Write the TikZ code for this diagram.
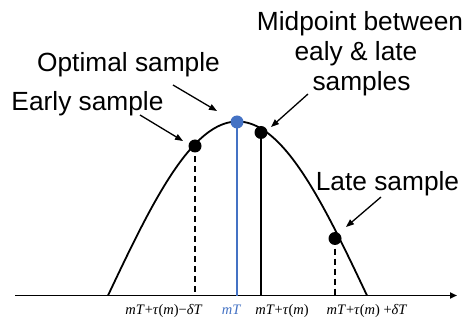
\documentclass[tikz,border=0pt]{standalone}
\usepackage{fontspec}
\setmainfont{Liberation Sans}
\newfontfamily\labfont{Liberation Serif}
\usetikzlibrary{arrows.meta}
\definecolor{ofblue}{HTML}{4472C4}
\newcommand\iv[1]{\textit{#1}}
\begin{document}
\begin{tikzpicture}[x=1pt,y=-1pt,
  txt/.style={font=\fontsize{26.3}{30}\selectfont, anchor=base, inner sep=0pt},
  lab/.style={font=\labfont\fontsize{14.5}{16}\selectfont, anchor=base, inner sep=0pt},
  dotb/.style={circle, fill=black, minimum size=13pt, inner sep=0pt},
  dotblue/.style={circle, fill=ofblue, minimum size=13pt, inner sep=0pt},
  ptr/.style={line width=1.3pt, -{Triangle[length=8pt,width=6pt]}},
  thick2/.style={line width=1.8pt},
  dsh/.style={line width=1.8pt, dash pattern=on 6pt off 4pt}]
\useasboundingbox (0,0) rectangle (468,320);

% axis
\coordinate (ax0) at (15,295.5);
\coordinate (ax1) at (457,295.5);
\draw[line width=1.8pt, -{Triangle[length=7pt,width=6pt]}] (ax0) -- (ax1);

% curve
\draw[thick2] plot[domain=108:367, samples=120, smooth] (\x,{295.5-174*cos(90*(\x-237.5)/129.5)});

% sample points
\coordinate (eb) at (195,295.5);
\coordinate (ob) at (237,295.5);
\coordinate (mb) at (261,295.5);
\coordinate (lb) at (335,295.5);
\coordinate (ec) at (195,146);
\coordinate (oc) at (237,122);
\coordinate (mc) at (261,132.5);
\coordinate (lc) at (335,238.5);

\draw[dsh] (ec) -- (eb);
\draw[line width=2pt, ofblue] (oc) -- (ob);
\draw[thick2] (mc) -- (mb);
\draw[dsh] (lc) -- (lb);

\node[dotb] (edot) at (ec) {};
\node[dotblue] (odot) at (oc) {};
\node[dotb] (mdot) at (mc) {};
\node[dotb] (ldot) at (lc) {};

% texts
\node[txt] (tearly) at (87.5,111) {Early sample};
\node[txt] (topt) at (128.5,71.5) {Optimal sample};
\node[txt] (tmid1) at (360,31) {Midpoint between};
\node[txt] (tmid2) at (356,61) {ealy \& late};
\node[txt] (tmid3) at (361.5,91) {samples};
\node[txt] (tlate) at (387.5,191) {Late sample};

% arrows
\coordinate (ea0) at (140,115);
\coordinate (ea1) at (183,141);
\coordinate (oa0) at (173,85);
\coordinate (oa1) at (217,111);
\coordinate (ma0) at (308,94);
\coordinate (ma1) at (271,127);
\coordinate (la0) at (381,197);
\coordinate (la1) at (346,227);
\draw[ptr] (ea0) -- (ea1);
\draw[ptr] (oa0) -- (oa1);
\draw[ptr] (ma0) -- (ma1);
\draw[ptr] (la0) -- (la1);

% axis labels
\node[lab] (l1) at (164,314) {\iv{mT}+\iv{τ}(\iv{m})−\iv{δT}};
\node[lab, text=ofblue] (l2) at (231.5,314) {\iv{mT}};
\node[lab] (l3) at (282,314) {\iv{mT}+\iv{τ}(\iv{m})};
\node[lab] (l4) at (367,314) {\iv{mT}+\iv{τ}(\iv{m}) +\iv{δT}};
\end{tikzpicture}
\end{document}
